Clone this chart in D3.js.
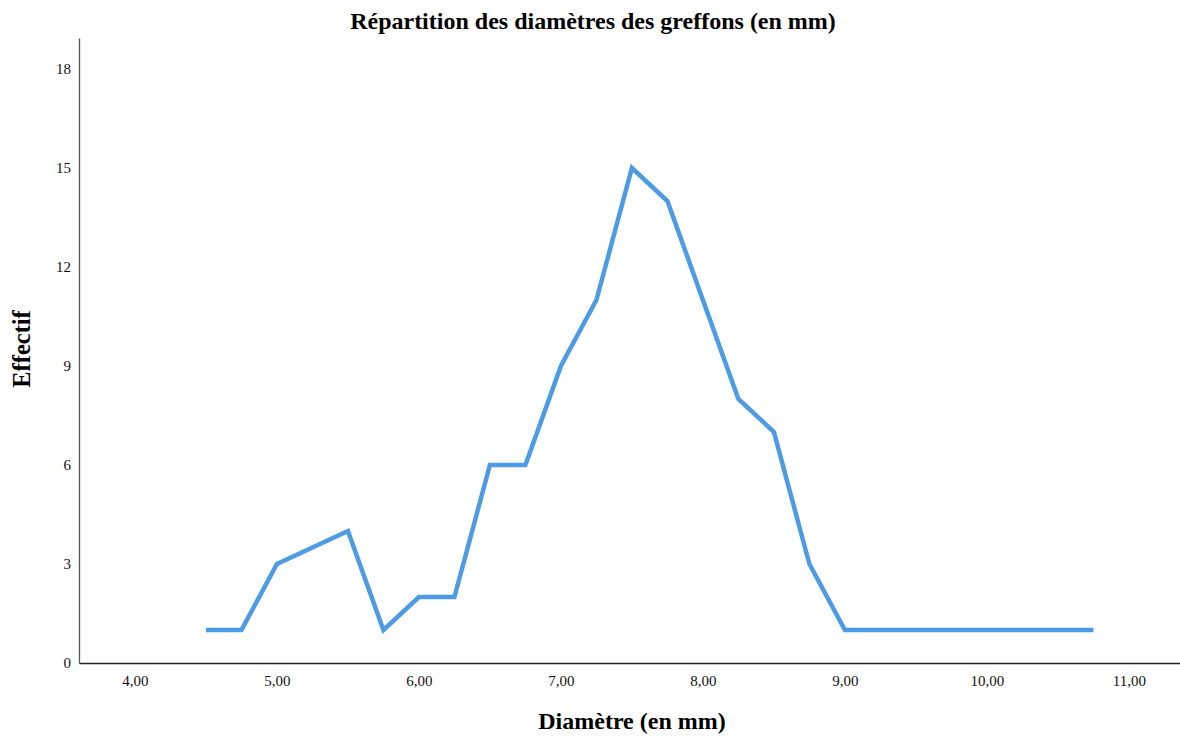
<!DOCTYPE html>
<html>
<head>
<meta charset="utf-8">
<script src="https://cdn.jsdelivr.net/npm/d3@7"></script>
<style>
    body { margin: 0; background: #fff; }
    svg { display: block; font-family: "Liberation Serif", "Times New Roman", serif; }
</style>
</head>
<body>
<script>
const diametres = [4.5, 4.75, 5.0, 5.5, 5.75, 6.0, 6.25, 6.5, 6.75, 7.0, 7.25, 7.5, 7.75, 8.0, 8.25, 8.5, 8.75, 9.0, 10.75];
const effectifs = [1, 1, 3, 4, 1, 2, 2, 6, 6, 9, 11, 15, 14, 11, 8, 7, 3, 1, 1];
const xTicks = [4, 5, 6, 7, 8, 9, 10, 11];
const yTicks = [0, 3, 6, 9, 12, 15, 18];

const width = 1180, height = 736;
const margin = { top: 38, right: 0, bottom: 73, left: 79 };

const svg = d3.select('body')
    .append('svg')
    .attr('width', width)
    .attr('height', height);

const x = d3.scaleLinear()
    .domain([3.606, 11.36])
    .range([margin.left, width - margin.right]);
const y = d3.scaleLinear()
    .domain([0, 18.94])
    .range([height - margin.bottom, margin.top]);

const fmt = d => d.toFixed(2).replace('.', ',');

// x axis
const xAxis = svg.append('g')
    .attr('transform', `translate(0, ${height - margin.bottom})`)
    .call(d3.axisBottom(x).tickValues(xTicks).tickFormat(fmt).tickSize(0).tickPadding(12));
xAxis.select('.domain').attr('stroke', '#222').attr('stroke-width', 1.3);
xAxis.selectAll('text')
    .attr('fill', '#111')
    .style('font-family', '"Liberation Serif", serif')
    .style('font-size', '15px');

// y axis
const yAxis = svg.append('g')
    .attr('transform', `translate(${margin.left}, 0)`)
    .call(d3.axisLeft(y).tickValues(yTicks).tickSize(0).tickPadding(8));
yAxis.select('.domain').attr('stroke', '#555').attr('stroke-width', 1.3);
yAxis.selectAll('text')
    .attr('fill', '#111')
    .style('font-family', '"Liberation Serif", serif')
    .style('font-size', '15px');

// line
const points = diametres.map((d, i) => ({ x: d, y: effectifs[i] }));
svg.append('path')
    .datum(points)
    .attr('fill', 'none')
    .attr('stroke', '#4d9be5')
    .attr('stroke-width', 4.5)
    .attr('stroke-linejoin', 'miter')
    .attr('d', d3.line().x(d => x(d.x)).y(d => y(d.y)));

// titles
svg.append('text')
    .attr('x', 593)
    .attr('y', 29)
    .attr('text-anchor', 'middle')
    .style('font-size', '24px')
    .style('font-weight', 'bold')
    .text('Répartition des diamètres des greffons (en mm)');
svg.append('text')
    .attr('x', 632)
    .attr('y', 729)
    .attr('text-anchor', 'middle')
    .style('font-size', '24px')
    .style('font-weight', 'bold')
    .text('Diamètre (en mm)');
svg.append('text')
    .attr('transform', 'translate(30, 349) rotate(-90)')
    .attr('text-anchor', 'middle')
    .style('font-size', '24.5px')
    .style('font-weight', 'bold')
    .text('Effectif');
</script>
</body>
</html>
